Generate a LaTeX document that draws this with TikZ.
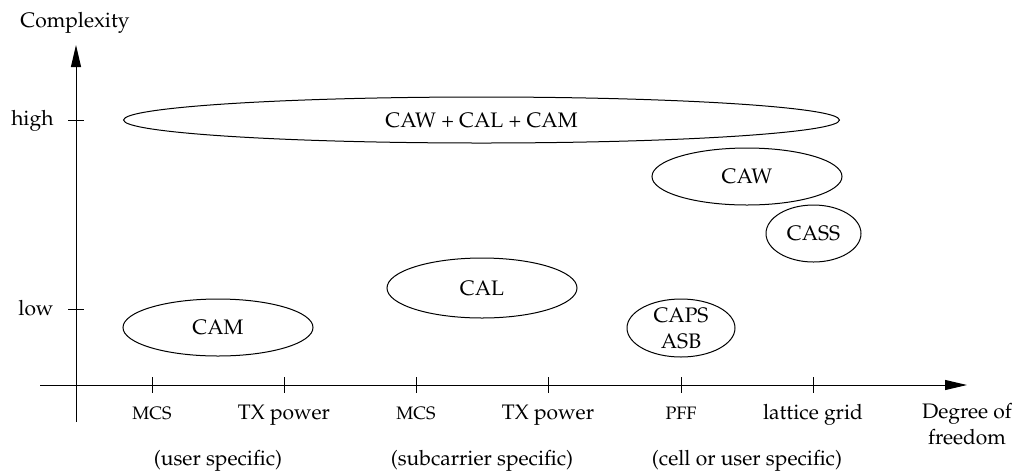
\documentclass[tikz,border=0pt]{standalone}
\usepackage[T1]{fontenc}
\usepackage{mathpazo}
\usetikzlibrary{shapes.geometric,arrows.meta}
\begin{document}
\begin{tikzpicture}[x=0.5pt,y=-0.5pt,line width=0.5pt,font=\fontsize{10.5pt}{13pt}\selectfont]
        \tikzstyle{axis}=[draw,-{Triangle[length=11pt,width=5pt]}]
        \tikzstyle{scheme}=[ellipse,draw,inner sep=0pt,align=center]
        \tikzstyle{dof}=[anchor=base]
        \useasboundingbox (0,0) rectangle (1019,473);
        % axes
        \coordinate (xstart) at (40,385);
        \coordinate (xend) at (967,385);
        \coordinate (ystart) at (76,422);
        \coordinate (yend) at (76,45);
        \path[axis] (xstart) -- (xend);
        \path[axis] (ystart) -- (yend);
        \node[anchor=base] (complexity) at (75,27) {Complexity};
        \node[dof,align=center] (freedom) at (967,444) {Degree of\\freedom};
        % complexity levels
        \coordinate (hightick) at (76,120);
        \coordinate (lowtick) at (76,309);
        \draw ([xshift=-4pt]hightick) -- ([xshift=4pt]hightick);
        \draw ([xshift=-4pt]lowtick) -- ([xshift=4pt]lowtick);
        \node[anchor=base east,inner sep=0pt] (high) at (54,125) {high};
        \node[anchor=base east,inner sep=0pt] (low) at (54,315) {low};
        % degrees of freedom
        \foreach \x/\lab [count=\i] in {152/{\small MCS},284/TX power,416/{\small MCS},548/TX power,681/{\small PFF},813/lattice grid}{
          \coordinate (t\i) at (\x,385);
          \draw ([yshift=4pt]t\i) -- ([yshift=-4pt]t\i);
          \node[dof] (d\i) at (\x,419) {\lab};
        }
        \node[dof] (user) at (218,465) {(user specific)};
        \node[dof] (subcarrier) at (482,465) {(subcarrier specific)};
        \node[dof] (cell) at (747,465) {(cell or user specific)};
        % schemes
        \node[scheme,minimum width=358pt,minimum height=23pt] (all) at (481.5,120) {CAW + CAL + CAM};
        \node[scheme,minimum width=95pt,minimum height=28.5pt] (cam) at (218,327.5) {CAM};
        \node[scheme,minimum width=95pt,minimum height=30pt] (cal) at (482,288) {CAL};
        \node[scheme,minimum width=95pt,minimum height=28.5pt] (caw) at (747,176.5) {CAW};
        \node[scheme,minimum width=47.5pt,minimum height=28.5pt] (cass) at (813.5,233.5) {CASS};
        \node[scheme,minimum width=54pt,minimum height=29pt] (caps) at (681,328) {CAPS\\ASB};
\end{tikzpicture}
\end{document}
